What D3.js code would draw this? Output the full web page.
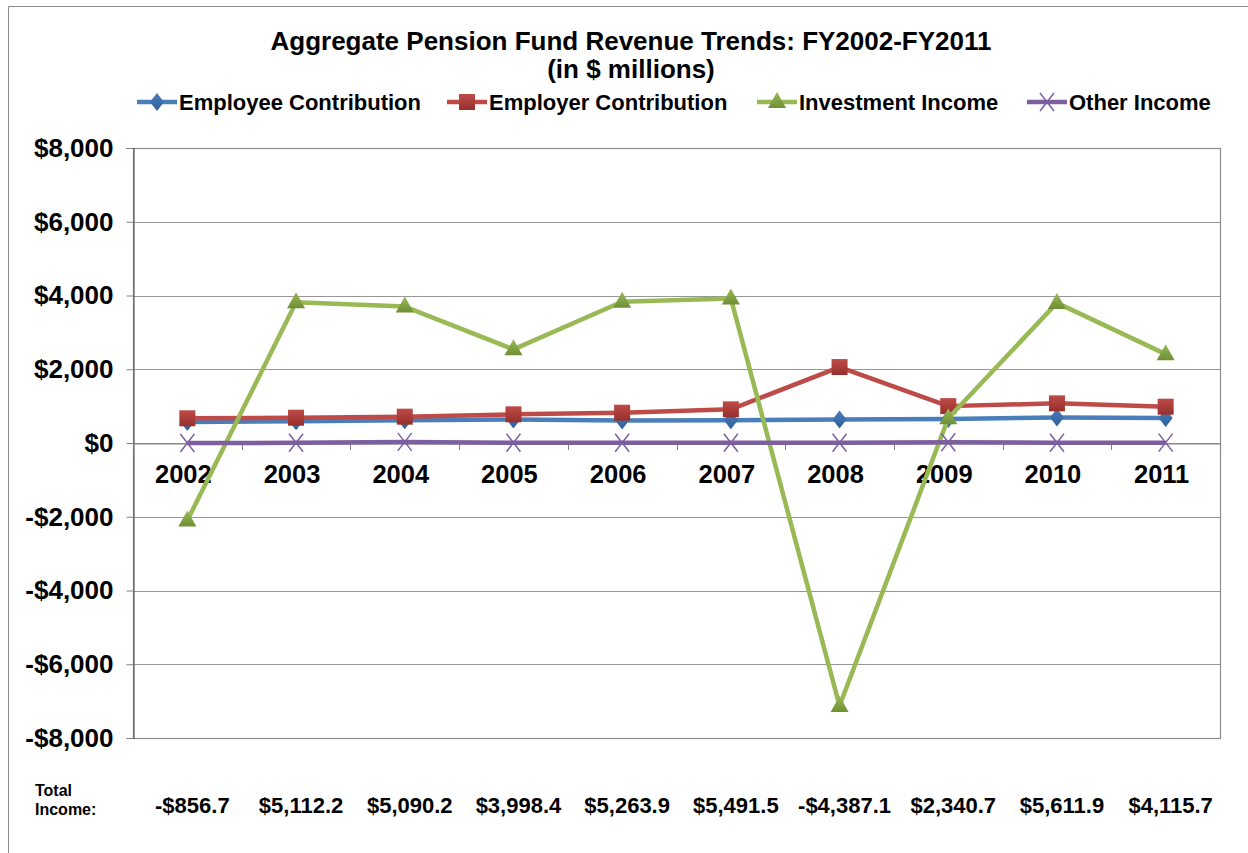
<!DOCTYPE html>
<html><head><meta charset="utf-8">
<script src="https://cdn.jsdelivr.net/npm/d3@7"></script>
<style>body{margin:0;background:#fff}svg{display:block}text{font-family:"Liberation Sans",Arial,sans-serif;font-weight:bold;fill:#000}</style>
</head><body>
<svg id="c" width="1248" height="853"></svg>
<script>
const years = ["2002","2003","2004","2005","2006","2007","2008","2009","2010","2011"];
const employee = [570, 590, 620, 640, 610, 620, 640, 650, 690, 680];
const employer = [670, 686, 714, 778, 822, 913, 2060, 1000, 1076, 985];
const investment = [-2100, 3815, 3700, 2540, 3830, 3920, -7130, 670, 3800, 2410];
const other = [0, 5, 30, 5, 5, 5, 5, 20, 5, 10];
const totals = ["-$856.7","$5,112.2","$5,090.2","$3,998.4","$5,263.9","$5,491.5","-$4,387.1","$2,340.7","$5,611.9","$4,115.7"];
const yTicks = [-8000,-6000,-4000,-2000,0,2000,4000,6000,8000];
const seriesNames = ["Employee Contribution","Employer Contribution","Investment Income","Other Income"];
const colors = ["#4A7EBB","#BE4B48","#98B954","#7D5FA0"];
const dark = ["#2f5f9a","#962f2c","#6f8f36","#5e4580"];
const markers = ["diamond","square","triangle","x"];

const svg = d3.select("#c");
const L=133, R=1220, T=148, B=738;
const x = d3.scaleBand().domain(years).range([L,R]);
const y = d3.scaleLinear().domain([-8000,8000]).range([B,T]);
const cx = d => x(d)+x.bandwidth()/2;

// outer border
svg.append("path").attr("d","M8.5,853 L8.5,6.5 L1248,6.5").attr("fill","none").attr("stroke","#8c8c8c");

// gradients
const defs = svg.append("defs");
colors.forEach((c,i)=>{
  const g = defs.append("linearGradient").attr("id","g"+i).attr("x1",0).attr("y1",0).attr("x2",0).attr("y2",1);
  g.append("stop").attr("offset","0%").attr("stop-color",c);
  g.append("stop").attr("offset","100%").attr("stop-color",dark[i]);
});

// grid
svg.append("g").selectAll("line").data(yTicks).join("line")
  .attr("x1",L).attr("x2",R).attr("y1",d=>Math.round(y(d))+0.5).attr("y2",d=>Math.round(y(d))+0.5)
  .attr("stroke","#969696").attr("stroke-width",1.2);
// plot border
svg.append("rect").attr("x",L+0.5).attr("y",T+0.5).attr("width",R-L).attr("height",B-T)
  .attr("fill","none").attr("stroke","#8c8c8c").attr("stroke-width",1.2);

// y axis
const ya = d3.axisLeft(y).tickValues(yTicks).tickSize(7).tickPadding(13)
  .tickFormat(d => (d<0?"-$":"$")+d3.format(",")(Math.abs(d)));
const yg = svg.append("g").attr("transform",`translate(${L+0.5},0)`).call(ya);
yg.select(".domain").attr("stroke","#606060").attr("stroke-width",1.2);
yg.selectAll(".tick line").attr("stroke","#808080");
yg.selectAll(".tick text").style("font-size","26px").attr("font-family","Liberation Sans, Arial, sans-serif").attr("font-weight","bold").attr("fill","#000");

// x axis at zero
const xa = d3.axisBottom(x).tickSize(0).tickPadding(0).tickFormat("");
const xg = svg.append("g").attr("transform",`translate(0,${Math.round(y(0))+0.5})`).call(xa);
xg.select(".domain").attr("stroke","#808080").attr("stroke-width",1.2);
const bounds = d3.range(years.length+1).map(i=>L+i*x.step());
svg.append("g").selectAll("line").data(bounds).join("line")
  .attr("x1",d=>Math.round(d)+0.5).attr("x2",d=>Math.round(d)+0.5)
  .attr("y1",y(0)).attr("y2",y(0)+7).attr("stroke","#808080");
svg.append("g").selectAll("text").data(years).join("text")
  .attr("x",d=>cx(d)-4).attr("y",y(0)+40).attr("text-anchor","middle")
  .style("font-size","25.5px").text(d=>d);

// series
const data = [employee, employer, investment, other];
const line = d3.line().x((d,i)=>cx(years[i])).y(d=>y(d));
function marker(g, type, i, px, py){
  const c = colors[i];
  if(type==="diamond"){
    g.append("path").attr("d",`M${px},${py-9} L${px+7},${py} L${px},${py+9} L${px-7},${py} Z`).attr("fill",`url(#g${i})`);
  } else if(type==="square"){
    g.append("rect").attr("x",px-8).attr("y",py-8).attr("width",16).attr("height",16).attr("fill",`url(#g${i})`);
  } else if(type==="triangle"){
    g.append("path").attr("d",`M${px},${py-10} L${px+9},${py+6} L${px-9},${py+6} Z`).attr("fill",`url(#g${i})`);
  } else {
    g.append("path").attr("d",`M${px-7},${py-9} L${px+7},${py+9} M${px+7},${py-9} L${px-7},${py+9}`).attr("stroke",c).attr("stroke-width",1.5).attr("fill","none");
  }
}
data.forEach((vals,i)=>{
  const g = svg.append("g");
  g.append("path").datum(vals).attr("d",line).attr("fill","none").attr("stroke",colors[i]).attr("stroke-width",4.5).attr("stroke-linejoin","round");
  vals.forEach((v,j)=>marker(g, markers[i], i, cx(years[j]), y(v)));
});

// title
svg.append("text").attr("x",631).attr("y",50).attr("text-anchor","middle").style("font-size","26px").text("Aggregate Pension Fund Revenue Trends: FY2002-FY2011");
svg.append("text").attr("x",631).attr("y",78).attr("text-anchor","middle").style("font-size","26px").text("(in $ millions)");

// legend
const legX = [137, 447, 757, 1027];
seriesNames.forEach((n,i)=>{
  const g = svg.append("g");
  g.append("line").attr("x1",legX[i]).attr("x2",legX[i]+40).attr("y1",102).attr("y2",102).attr("stroke",colors[i]).attr("stroke-width",4.5);
  marker(g, markers[i], i, legX[i]+20, 102);
  g.append("text").attr("x",legX[i]+42).attr("y",110).style("font-size","22px").text(n);
});

// totals
svg.append("text").attr("x",35).attr("y",796).style("font-size","16px").text("Total");
svg.append("text").attr("x",35).attr("y",815).style("font-size","16px").text("Income:");
svg.append("g").selectAll("text").data(totals).join("text")
  .attr("x",(d,i)=>cx(years[i])+5).attr("y",813).attr("text-anchor","middle").style("font-size","22px").text(d=>d);
</script>
</body></html>
